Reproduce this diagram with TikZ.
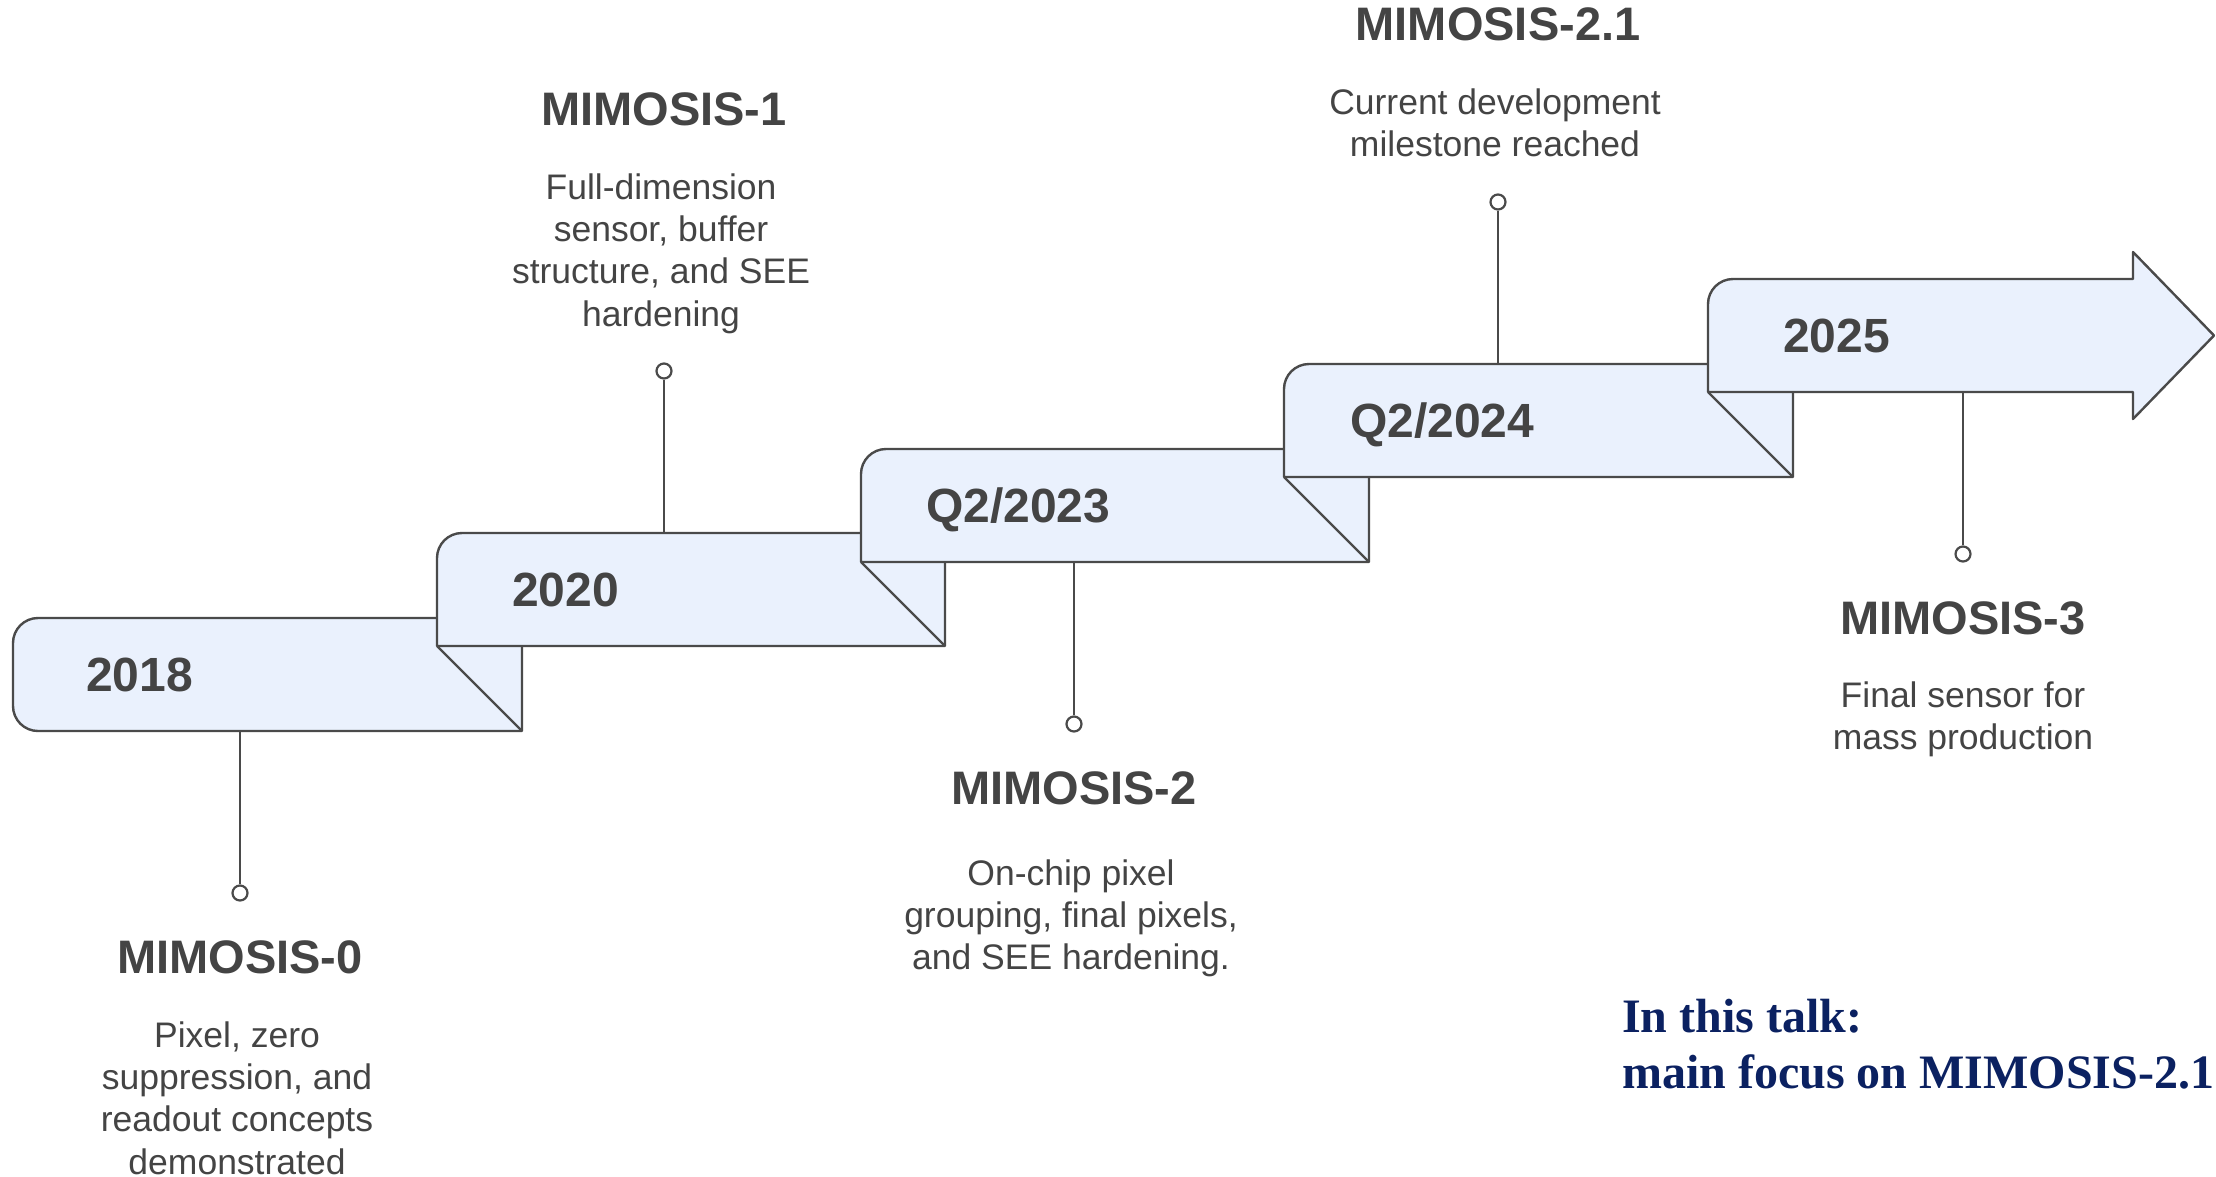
\documentclass[tikz,border=0pt]{standalone}
\usepackage{fontspec}
\setmainfont{Liberation Sans}
\newfontfamily\notefont{Liberation Serif}
\definecolor{fillC}{HTML}{EAF1FD}
\definecolor{lineC}{HTML}{4A4A4A}
\definecolor{textC}{HTML}{444444}
\definecolor{noteC}{HTML}{0B2161}
\begin{document}
\begin{tikzpicture}[x=1pt,y=-1pt,
  stepbox/.style={draw=lineC, fill=fillC, line width=2.4pt, line join=round},
  foldline/.style={draw=lineC, line width=2.4pt},
  stem/.style={draw=lineC, line width=2.4pt},
  dot/.style={circle, draw=lineC, fill=white, line width=2.2pt, minimum size=15pt, inner sep=0pt},
  year/.style={anchor=base west, inner sep=0pt, text=textC, font=\fontsize{48}{56}\selectfont\bfseries},
  title/.style={anchor=base, inner sep=0pt, text=textC, font=\fontsize{47}{56}\selectfont\bfseries},
  desc/.style={anchor=base, inner sep=0pt, text=textC, font=\fontsize{35.5}{42}\selectfont},
  note/.style={anchor=base west, inner sep=0pt, text=noteC, font=\notefont\fontsize{48}{56}\selectfont\bfseries}
]
\useasboundingbox (0,0) rectangle (2216,1176);

% steps
\path[stepbox] (522,731) -- (38,731) .. controls (24.2,731) and (13,719.8) .. (13,706) -- (13,643) .. controls (13,629.2) and (24.2,618) .. (38,618) -- (522,618) -- cycle;
\path[stepbox] (945,646) -- (437,646) -- (437,558) .. controls (437,544.2) and (448.2,533) .. (462,533) -- (945,533) -- cycle;
\path[stepbox] (1369,562) -- (861,562) -- (861,474) .. controls (861,460.2) and (872.2,449) .. (886,449) -- (1369,449) -- cycle;
\path[stepbox] (1793,477) -- (1284,477) -- (1284,389) .. controls (1284,375.2) and (1295.2,364) .. (1309,364) -- (1793,364) -- cycle;
\path[stepbox] (1708,392) -- (1708,304) .. controls (1708,290.2) and (1719.2,279) .. (1733,279) -- (2133,279) -- (2133,252) -- (2214,335.5) -- (2133,419) -- (2133,392) -- cycle;

% folds
\draw[foldline] (437,646) -- (522,731);
\draw[foldline] (861,562) -- (945,646);
\draw[foldline] (1284,477) -- (1369,562);
\draw[foldline] (1708,392) -- (1793,477);

% years
\node[year] (y1) at (86,691) {2018};
\node[year] (y2) at (512,606) {2020};
\node[year] (y3) at (926,522) {Q2/2023};
\node[year] (y4) at (1350,437) {Q2/2024};
\node[year] (y5) at (1783,352) {2025};

% stems
\coordinate (s1) at (240,731);
\coordinate (s2) at (664,533);
\coordinate (s3) at (1074,562);
\coordinate (s4) at (1498,364);
\coordinate (s5) at (1963,392);
\node[dot] (c1) at (240,893) {};
\node[dot] (c2) at (664,371) {};
\node[dot] (c3) at (1074,724) {};
\node[dot] (c4) at (1498,202) {};
\node[dot] (c5) at (1963,554) {};
\draw[stem] (s1) -- (c1);
\draw[stem] (s2) -- (c2);
\draw[stem] (s3) -- (c3);
\draw[stem] (s4) -- (c4);
\draw[stem] (s5) -- (c5);

% titles
\node[title] (t0) at (240,973) {MIMOSIS-0};
\node[title] (t1) at (664,125) {MIMOSIS-1};
\node[title] (t2) at (1074,804) {MIMOSIS-2};
\node[title] (t3) at (1498,40) {MIMOSIS-2.1};
\node[title] (t4) at (1963,634) {MIMOSIS-3};

% descriptions
\node[desc] (d0a) at (237,1047) {Pixel, zero};
\node[desc] (d0b) at (237,1089.4) {suppression, and};
\node[desc] (d0c) at (237,1131.8) {readout concepts};
\node[desc] (d0d) at (237,1174.2) {demonstrated};

\node[desc] (d1a) at (661,199) {Full-dimension};
\node[desc] (d1b) at (661,241.4) {sensor, buffer};
\node[desc] (d1c) at (661,283.8) {structure, and SEE};
\node[desc] (d1d) at (661,326.2) {hardening};

\node[desc] (d2a) at (1071,885) {On-chip pixel};
\node[desc] (d2b) at (1071,927.4) {grouping, final pixels,};
\node[desc] (d2c) at (1071,969.8) {and SEE hardening.};

\node[desc] (d3a) at (1495,114) {Current development};
\node[desc] (d3b) at (1495,156.4) {milestone reached};

\node[desc] (d4a) at (1963,707) {Final sensor for};
\node[desc] (d4b) at (1963,749.4) {mass production};

% note
\node[note] (n1) at (1622,1032) {In this talk:};
\node[note] (n2) at (1622,1088) {main focus on MIMOSIS-2.1};
\end{tikzpicture}
\end{document}
